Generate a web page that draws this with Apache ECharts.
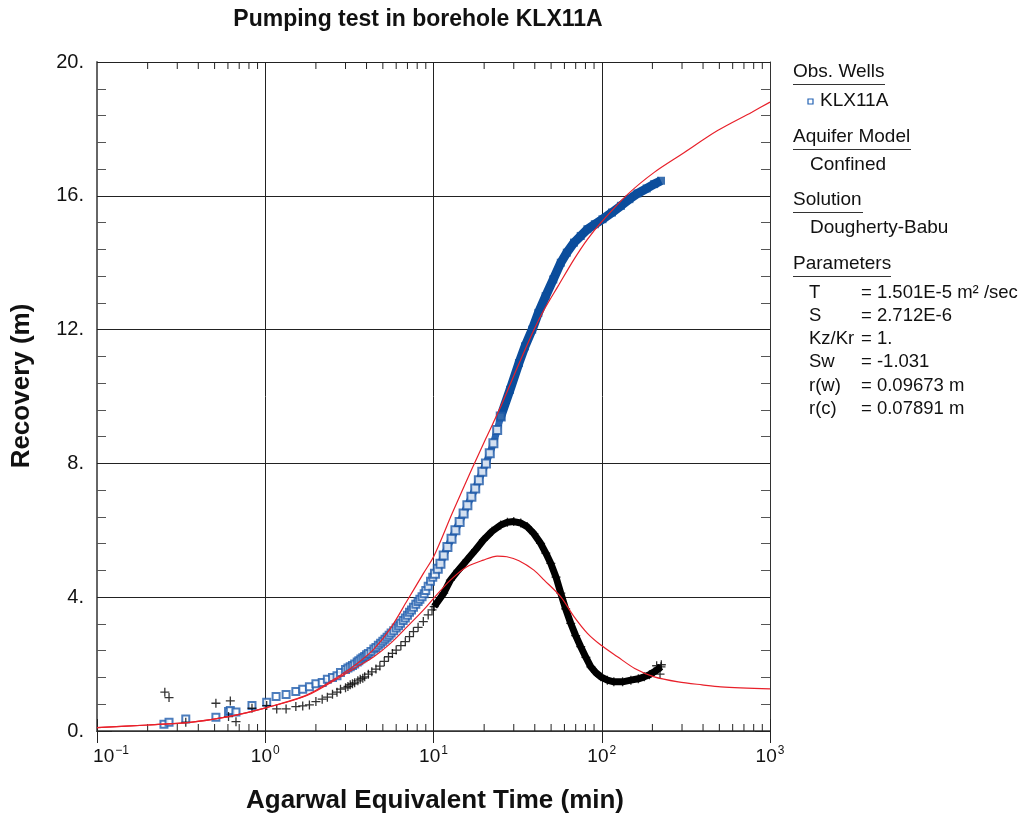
<!DOCTYPE html>
<html>
<head>
<meta charset="utf-8">
<script src="https://cdn.jsdelivr.net/npm/echarts@6/dist/echarts.min.js"></script>
<style>html,body{margin:0;padding:0;background:#fff}#c{width:1025px;height:816px}</style>
</head>
<body>
<div id="c"></div>
<script>
// ---- data (time in min, recovery in m) ----
var obsEarly = [[0.25,0.20],[0.268,0.26],[0.337,0.36],[0.509,0.41],[0.605,0.58],[0.62,0.61],[0.67,0.57],[0.834,0.76],[1.02,0.86],[1.16,1.03],[1.33,1.09],[1.52,1.18],[1.67,1.25],[1.83,1.32],[2.0,1.41],[2.18,1.45],[2.34,1.55],[2.51,1.60],[2.67,1.65],[2.8,1.75]];
var obsMid = [[3.0,1.84],[3.1,1.88],[3.2,1.92],[3.3,1.96],[3.4,2.0],[3.52,2.06],[3.6,2.1],[3.7,2.15],[3.8,2.19],[3.9,2.23],[4.0,2.28],[4.1,2.32],[4.25,2.38],[4.42,2.45],[4.55,2.5],[4.7,2.56],[4.85,2.62],[5.0,2.68],[5.15,2.74],[5.3,2.80],[5.45,2.86],[5.6,2.93],[5.8,3.0],[6.0,3.08],[6.2,3.15],[6.37,3.22],[6.6,3.3],[6.8,3.38],[7.0,3.46],[7.2,3.55],[7.4,3.62],[7.6,3.7],[7.85,3.79],[8.1,3.87],[8.3,3.94],[8.55,4.01],[8.8,4.1],[9.0,4.2],[9.3,4.33],[9.6,4.48],[9.9,4.6]];
var obsRise = [[10.2,4.7],[10.6,4.85],[11.0,5.0],[11.5,5.25],[12.1,5.5],[12.8,5.75],[13.5,6.0],[14.3,6.25],[15.1,6.5],[15.9,6.75],[16.8,7.0],[17.7,7.25],[18.6,7.5],[19.5,7.75],[20.5,8.0],[21.6,8.3],[22.7,8.6],[23.9,9.0],[25.1,9.4]];
var obsLate = [[25.1,9.4],[28.5,10.2],[32.2,11.0],[35.0,11.5],[38.6,12.0],[42.0,12.5],[46.4,13.0],[51.5,13.5],[57.1,14.0],[62.0,14.3],[68.4,14.6],[75.0,14.8],[82.2,15.0],[91.0,15.15],[101,15.3],[115,15.5],[130,15.7],[146,15.9],[163,16.07],[185,16.22],[205,16.35],[225,16.45]];
var derivEarly = [[0.253,1.16],[0.268,1.0],[0.337,0.26],[0.509,0.83],[0.605,0.43],[0.62,0.9],[0.67,0.28],[0.834,0.68],[1.02,0.76],[1.17,0.66],[1.33,0.66],[1.52,0.73],[1.67,0.75],[1.83,0.78],[2.0,0.88],[2.18,0.95],[2.34,1.01],[2.51,1.1],[2.67,1.16],[2.8,1.25]];
var derivMid = [[3.0,1.29],[3.1,1.33],[3.2,1.38],[3.3,1.41],[3.4,1.44],[3.55,1.5],[3.67,1.55],[3.8,1.58],[3.9,1.62],[4.1,1.7],[4.3,1.77],[4.55,1.85],[4.8,1.94],[5.1,2.08],[5.4,2.22],[5.7,2.32],[6.0,2.42],[6.4,2.55],[6.8,2.67],[7.2,2.82],[7.6,2.97],[8.1,3.1],[8.7,3.27],[9.3,3.47],[9.8,3.62]];
var derivLate = [[10.1,3.72],[11.5,4.12],[12.6,4.51],[14.0,4.8],[15.8,5.11],[17.8,5.42],[19.8,5.71],[22.3,5.97],[25.1,6.16],[27.5,6.24],[30.0,6.26],[33.0,6.22],[36.0,6.11],[39.5,5.9],[43.3,5.61],[46.5,5.32],[49.8,5.01],[53.5,4.6],[57.1,4.12],[61.0,3.65],[65.4,3.22],[70.0,2.85],[75.0,2.52],[80.5,2.2],[86.1,1.92],[92.0,1.75],[98.7,1.62],[108,1.52],[118,1.47],[133,1.47],[149,1.52],[165,1.56],[179,1.62],[192,1.68],[205,1.77],[215,1.84],[225,1.92]];
var derivTail = [[212,1.95],[222,1.70],[226,1.98]];
var modelRecovery = [[0.1,0.1],[0.202,0.18],[0.357,0.26],[0.605,0.43],[1.02,0.70],[1.77,1.08],[2.8,1.67],[3.52,2.02],[4.42,2.45],[5.55,3.07],[6.98,3.9],[8.73,4.72],[10.1,5.25],[12.9,6.5],[16.8,7.8],[20.5,8.75],[25.1,9.7],[32,10.95],[39.5,11.99],[45.5,12.6],[55,13.3],[68.4,14.1],[82.2,14.7],[101,15.25],[143,16.05],[205,16.7],[300,17.25],[488,17.95],[780,18.5],[1000,18.8]];
var modelDeriv = [[0.1,0.1],[0.202,0.18],[0.357,0.26],[0.605,0.43],[1.02,0.70],[1.77,1.06],[2.8,1.62],[3.52,1.92],[4.42,2.22],[5.55,2.62],[6.98,3.12],[8.73,3.62],[10.2,4.01],[12.6,4.51],[15.8,4.91],[19.8,5.11],[23.9,5.23],[27.3,5.21],[32.2,5.09],[39.5,4.81],[45.5,4.51],[57.1,4.01],[68.4,3.42],[82.2,2.92],[98.7,2.57],[124,2.22],[157,1.87],[205,1.62],[285,1.47],[395,1.38],[510,1.32],[1000,1.26]];
var xMinorTicks = [0.2,0.3,0.4,0.5,0.6,0.7,0.8,0.9,2,3,4,5,6,7,8,9,20,30,40,50,60,70,80,90,200,300,400,500,600,700,800,900];
var xTickExp = {'0.1':'\u22121','1':'0','10':'1','100':'2','1000':'3'};
var yTickLabels = {'0':'0.','4':'4.','8':'8.','12':'12.','16':'16.','20':'20.'};
var paramNames = ['T','S','Kz/Kr','Sw','r(w)','r(c)'];
var paramValues = ['= 1.501E-5 m\u00b2 /sec','= 2.712E-6','= 1.','= -1.031','= 0.09673 m','= 0.07891 m'];

var FONT = 'Liberation Sans, Arial, sans-serif';
var chart = echarts.init(document.getElementById('c'), null, {renderer:'canvas'});

var crossPath = 'path://M5,0L5,10M0,5L10,5';
var legendX = 793;
function heading(txt, y, w){
  return [
    {type:'text', left:legendX, top:y-11, style:{text:txt, font:'19px '+FONT, fill:'#111'}},
    {type:'rect', shape:{x:legendX, y:y+11, width:w, height:1}, style:{fill:'#333'}}
  ];
}
var graphics = [];
graphics.push({type:'text', x:418, y:20, style:{text:'Pumping test in borehole KLX11A', font:'bold 23px '+FONT, fill:'#111', align:'center', verticalAlign:'middle'}});
graphics.push({type:'text', x:435, y:801, style:{text:'Agarwal Equivalent Time (min)', font:'bold 26px '+FONT, fill:'#111', align:'center', verticalAlign:'middle'}});
graphics.push({type:'text', x:22, y:386, rotation:Math.PI/2, style:{text:'Recovery (m)', font:'bold 26px '+FONT, fill:'#111', align:'center', verticalAlign:'middle'}});
graphics = graphics.concat(heading('Obs. Wells', 73, 92));
graphics.push({type:'rect', shape:{x:808, y:99, width:5, height:5}, style:{fill:'#fff', stroke:'#2463b4', lineWidth:1.2}});
graphics.push({type:'text', left:820, top:91, style:{text:'KLX11A', font:'19px '+FONT, fill:'#111'}});
graphics = graphics.concat(heading('Aquifer Model', 138, 118));
graphics.push({type:'text', left:810, top:155, style:{text:'Confined', font:'19px '+FONT, fill:'#111'}});
graphics = graphics.concat(heading('Solution', 201, 70));
graphics.push({type:'text', left:810, top:218, style:{text:'Dougherty-Babu', font:'19px '+FONT, fill:'#111'}});
graphics = graphics.concat(heading('Parameters', 265, 98));
for (var i=0;i<paramNames.length;i++){
  var yy = 283 + i*23.3;
  graphics.push({type:'text', left:809, top:yy, style:{text:paramNames[i], font:'18.5px '+FONT, fill:'#111'}});
  graphics.push({type:'text', left:861, top:yy, style:{text:paramValues[i], font:'18.5px '+FONT, fill:'#111'}});
}

var option = {
  animation:false,
  backgroundColor:'#fff',
  graphic: graphics,
  grid:{left:97, top:62, width:673, height:669, containLabel:false},
  xAxis:[{
    type:'log', logBase:10, min:0.1, max:1000, position:'bottom',
    axisLine:{show:true, lineStyle:{color:'#666', width:2}},
    axisTick:{show:true, inside:true, length:12, lineStyle:{color:'#222'}},
    minorTick:{show:false},
    splitLine:{show:true, lineStyle:{color:'#222', width:1}},
    axisLabel:{margin:14, color:'#111', fontFamily:FONT,
      formatter:function(v){ var k=String(Math.round(v*10)/10); return (k==='0.1'?'{f|10}':'{b|10}')+'{s|'+(xTickExp[k]||'')+'}'; },
      rich:{b:{fontSize:19, fontFamily:FONT, color:'#111', verticalAlign:'bottom'},
            f:{fontSize:19, fontFamily:FONT, color:'#111', verticalAlign:'bottom', padding:[0,0,0,28]},
            s:{fontSize:12, fontFamily:FONT, color:'#111', verticalAlign:'bottom', padding:[0,0,9,1]}}
    }
  },{
    type:'log', logBase:10, min:0.1, max:1000, position:'top',
    axisLine:{show:true, lineStyle:{color:'#333', width:1}},
    axisTick:{show:true, inside:true, length:12, lineStyle:{color:'#222'}},
    axisLabel:{show:false}, splitLine:{show:false}
  }],
  yAxis:[{
    type:'value', min:0, max:20, interval:4, position:'left',
    axisLine:{show:true, lineStyle:{color:'#666', width:2}},
    axisTick:{show:true, inside:true, length:15, lineStyle:{color:'#222'}},
    minorTick:{show:true, splitNumber:5, length:9, lineStyle:{color:'#555', width:1}},
    splitLine:{show:true, lineStyle:{color:'#222', width:1}},
    axisLabel:{margin:13, color:'#111', fontSize:20, fontFamily:FONT, formatter:function(v){return yTickLabels[String(v)];}}
  },{
    type:'value', min:0, max:20, interval:4, position:'right',
    axisLine:{show:true, lineStyle:{color:'#333', width:1}},
    axisTick:{show:true, inside:true, length:15, lineStyle:{color:'#222'}},
    minorTick:{show:true, splitNumber:5, length:9, lineStyle:{color:'#555', width:1}},
    splitLine:{show:false}, axisLabel:{show:false}
  }],
  series:[
    {type:'custom', name:'xminor', xAxisIndex:0, yAxisIndex:0, silent:true, clip:false,
      data: xMinorTicks.map(function(v){return [v];}),
      encode:{x:0},
      renderItem:function(params, api){
        var v = api.value(0);
        var b = api.coord([v, 0]);
        var t = api.coord([v, 20]);
        return {type:'group', children:[
          {type:'line', shape:{x1:b[0], y1:b[1], x2:b[0], y2:b[1]-7}, style:{stroke:'#222', lineWidth:1}},
          {type:'line', shape:{x1:t[0], y1:t[1], x2:t[0], y2:t[1]+7}, style:{stroke:'#222', lineWidth:1}}
        ]};
      }
    },
    {type:'line', name:'obsRiseBand', data:obsRise, showSymbol:false, lineStyle:{color:'#2a66b3', width:7}, z:3},
    {type:'line', name:'obsBand', data:obsLate, showSymbol:false, lineStyle:{color:'#0b4d9c', width:9}, z:3},
    {type:'line', name:'derivBand', data:derivLate, showSymbol:false, lineStyle:{color:'#000', width:7}, z:3},
    {type:'scatter', name:'obs', data:obsEarly.concat(obsMid), symbol:'emptyRect', symbolSize:7,
      itemStyle:{color:'#1f5cad', borderWidth:1.3}, z:4},
    {type:'scatter', name:'obsRisePts', data:obsRise, symbol:'emptyRect', symbolSize:8,
      itemStyle:{color:'#1a56a6', borderWidth:1.4}, z:4},
    {type:'scatter', name:'obsLatePts', data:obsLate, symbol:'rect', symbolSize:8,
      itemStyle:{color:'#0b4d9c'}, z:4},
    {type:'scatter', name:'deriv', data:derivEarly.concat(derivMid, derivLate, derivTail), symbol:crossPath, symbolSize:9,
      itemStyle:{color:'transparent', borderColor:'#000', borderWidth:1.3}, z:4},
    {type:'line', name:'modelRec', data:modelRecovery, smooth:0.3, showSymbol:false, lineStyle:{color:'#e8202a', width:1.2}, z:5},
    {type:'line', name:'modelDer', data:modelDeriv, smooth:0.3, showSymbol:false, lineStyle:{color:'#e8202a', width:1.2}, z:5}
  ]
};
chart.setOption(option);
</script>
</body>
</html>
